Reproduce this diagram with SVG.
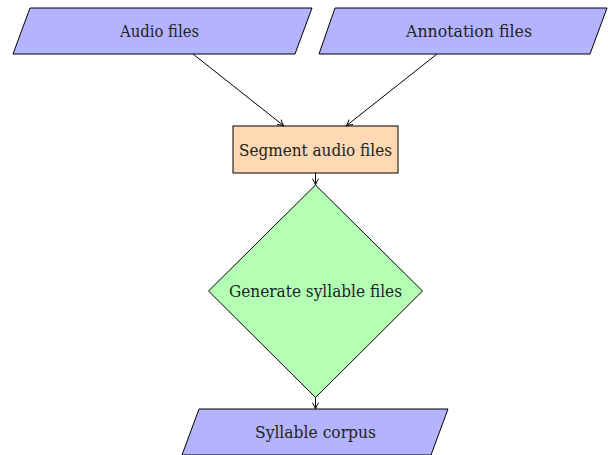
<svg xmlns="http://www.w3.org/2000/svg" width="608" height="455" viewBox="0 0 608 455">
<style>
.n{stroke:#000;stroke-width:1}
.io{fill:#b3b3ff}
.pr{fill:#ffd9b3}
.de{fill:#b3ffb3}
.t{font-family:'DejaVu Serif','Liberation Serif','Times New Roman',serif;font-size:16px;fill:#222;text-anchor:middle}
.c{stroke:#000;stroke-width:1;fill:none;marker-end:url(#ah)}
</style>
<defs>
<marker id="ah" viewBox="0 0 10 10" refX="9" refY="5" markerWidth="8" markerHeight="8" markerUnits="userSpaceOnUse" orient="auto">
<path d="M1,1 Q5,4 9,5 Q5,6 1,9" fill="none" stroke="#000" stroke-width="1.2"/>
</marker>
</defs>
<g id="audio"><polygon class="n io" points="30,8 312,8 295,54 13,54"/><text class="t" x="159.5" y="37" textLength="79" lengthAdjust="spacingAndGlyphs">Audio files</text></g>
<g id="annotation"><polygon class="n io" points="335,8 607,8 590,54 319,54"/><text class="t" x="469" y="37" textLength="126" lengthAdjust="spacingAndGlyphs">Annotation files</text></g>
<g id="segment"><rect class="n pr" x="233" y="126" width="165" height="47"/><text class="t" x="315.5" y="156" textLength="153" lengthAdjust="spacingAndGlyphs">Segment audio files</text></g>
<g id="generate"><polygon class="n de" points="315.5,185 422.5,291 315.5,397.5 208.5,291"/><text class="t" x="315.5" y="297" textLength="173" lengthAdjust="spacingAndGlyphs">Generate syllable files</text></g>
<g id="corpus"><polygon class="n io" points="199,409 448,409 431,455 182,455"/><text class="t" x="315.5" y="438" textLength="121" lengthAdjust="spacingAndGlyphs">Syllable corpus</text></g>
<g id="connectors">
<line class="c" x1="193" y1="54" x2="284" y2="126"/>
<line class="c" x1="437" y1="54" x2="346" y2="126"/>
<line class="c" x1="315.5" y1="173" x2="315.5" y2="185"/>
<line class="c" x1="315.5" y1="397.5" x2="315.5" y2="409"/>
</g>
</svg>
